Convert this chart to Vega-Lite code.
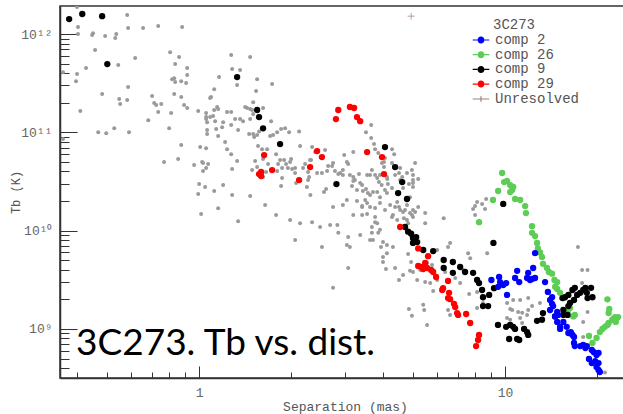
{
"$schema":"https://vega.github.io/schema/vega-lite/v6.json",
"width":570,"height":372,"autosize":"none",
"padding":{"left":60,"top":6,"right":0,"bottom":36},
"background":"white",
"config":{"view":{"stroke":"#333","strokeWidth":1.5},"font":"Liberation Mono","legend":{"titleFontWeight":"normal"}},
"datasets":{
"gray":[
{"sep":0.399,"tb":1.88e12},{"sep":0.402,"tb":1.18e12},{"sep":0.402,"tb":1.0e12},{"sep":0.447,"tb":9.77e11},{"sep":0.45,"tb":1.02e12},{"sep":0.493,"tb":9.54e11},{"sep":0.536,"tb":1.0e12},{"sep":0.532,"tb":9.11e11},{"sep":0.582,"tb":1.56e12},{"sep":0.586,"tb":1.15e12},{"sep":0.656,"tb":1.15e12},{"sep":0.735,"tb":1.21e12},{"sep":0.88,"tb":1.18e12},{"sep":0.457,"tb":6.87e11},{"sep":0.618,"tb":5.7e11},{"sep":0.427,"tb":4.51e11},{"sep":0.399,"tb":3.92e11},{"sep":0.544,"tb":4.84e11},{"sep":0.396,"tb":3.32e11},{"sep":0.359,"tb":4.1e11},{"sep":0.482,"tb":2.46e11},{"sep":0.586,"tb":2.89e11},{"sep":0.548,"tb":2.18e11},{"sep":0.552,"tb":1.94e11},{"sep":0.582,"tb":2.13e11},{"sep":0.409,"tb":1.65e11},{"sep":0.468,"tb":1.0e11},{"sep":0.497,"tb":9.77e10},{"sep":0.528,"tb":1.1e11},{"sep":0.59,"tb":1.0e11},{"sep":0.359,"tb":8.55e10},{"sep":0.804,"tb":6.55e11},{"sep":0.86,"tb":5.83e11},{"sep":0.835,"tb":4.95e11},{"sep":0.914,"tb":4.51e11},{"sep":0.914,"tb":3.83e11},{"sep":0.907,"tb":3.17e11},{"sep":0.816,"tb":3.48e11},{"sep":0.829,"tb":3.56e11},{"sep":0.835,"tb":3.25e11},{"sep":0.874,"tb":3.32e11},{"sep":0.702,"tb":2.34e11},{"sep":0.713,"tb":1.99e11},{"sep":0.724,"tb":1.9e11},{"sep":0.752,"tb":1.94e11},{"sep":0.735,"tb":1.61e11},{"sep":0.81,"tb":1.57e11},{"sep":0.829,"tb":2.46e11},{"sep":0.874,"tb":2.29e11},{"sep":0.893,"tb":1.9e11},{"sep":0.914,"tb":1.77e11},{"sep":0.682,"tb":1.33e11},{"sep":0.798,"tb":1.1e11},{"sep":0.874,"tb":7.43e10},{"sep":0.768,"tb":4.99e10},{"sep":0.854,"tb":5.35e10},{"sep":0.963,"tb":4.65e10},{"sep":1.03,"tb":4.87e10},{"sep":1.07,"tb":4.76e10},{"sep":1.054,"tb":4.33e10},{"sep":1.03,"tb":4.04e10},{"sep":0.993,"tb":1.65e11},{"sep":1.054,"tb":1.57e11},{"sep":1.054,"tb":1.43e11},{"sep":1.062,"tb":1.27e11},{"sep":1.086,"tb":1.43e11},{"sep":1.111,"tb":1.47e11},{"sep":1.12,"tb":2.75e11},{"sep":1.094,"tb":2.29e11},{"sep":1.086,"tb":2.24e11},{"sep":1.162,"tb":3.65e11},{"sep":1.128,"tb":1.3e11},{"sep":1.137,"tb":1.08e11},{"sep":1.154,"tb":1.73e11},{"sep":1.198,"tb":1.27e11},{"sep":1.189,"tb":1.13e11},{"sep":1.154,"tb":9.17e10},{"sep":1.062,"tb":9.6e10},{"sep":1.062,"tb":1.06e11},{"sep":1.054,"tb":6.9e10},{"sep":1.216,"tb":7.97e10},{"sep":1.234,"tb":6.75e10},{"sep":1.273,"tb":6.0e10},{"sep":1.331,"tb":5.1e10},{"sep":1.282,"tb":4.23e10},{"sep":1.49,"tb":4.13e10},{"sep":1.0,"tb":2.98e10},{"sep":1.046,"tb":2.78e10},{"sep":1.12,"tb":2.53e10},{"sep":0.993,"tb":2.36e10},{"sep":1.198,"tb":2.91e10},{"sep":1.154,"tb":1.69e10},{"sep":1.015,"tb":1.48e10},{"sep":1.341,"tb":1.25e10},{"sep":1.282,"tb":2.3e10},{"sep":1.468,"tb":2.25e10},{"sep":1.234,"tb":1.61e11},{"sep":1.273,"tb":1.61e11},{"sep":1.311,"tb":1.37e11},{"sep":1.361,"tb":1.37e11},{"sep":1.392,"tb":1.3e11},{"sep":1.414,"tb":1.81e11},{"sep":1.435,"tb":1.77e11},{"sep":1.468,"tb":1.73e11},{"sep":1.49,"tb":1.69e11},{"sep":1.273,"tb":1.19e11},{"sep":1.341,"tb":1.06e11},{"sep":1.273,"tb":6.11e11},{"sep":1.282,"tb":4.4e11},{"sep":1.361,"tb":4.3e11},{"sep":1.331,"tb":3.03e11},{"sep":1.468,"tb":5.83e11},{"sep":1.547,"tb":3.48e11},{"sep":1.502,"tb":2.03e11},{"sep":1.535,"tb":2.63e11},{"sep":1.468,"tb":1.37e11},{"sep":1.502,"tb":1.54e11},{"sep":1.457,"tb":9.6e10},{"sep":1.502,"tb":9.6e10},{"sep":1.732,"tb":3.1e11},{"sep":1.618,"tb":1.77e11},{"sep":1.719,"tb":1.3e11},{"sep":1.799,"tb":1.0e11},{"sep":1.853,"tb":1.08e11},{"sep":1.91,"tb":1.1e11},{"sep":1.968,"tb":1.0e11},{"sep":2.122,"tb":1.02e11},{"sep":1.145,"tb":1.81e11},{"sep":1.12,"tb":1.69e11},{"sep":1.054,"tb":1.37e11},{"sep":1.547,"tb":9.39e10},{"sep":1.57,"tb":1.02e11},{"sep":1.513,"tb":8.96e10},{"sep":1.008,"tb":7.08e10},{"sep":1.023,"tb":5.0e10},{"sep":1.558,"tb":7.25e10},{"sep":1.606,"tb":6.75e10},{"sep":1.706,"tb":9.17e10},{"sep":1.745,"tb":9.39e10},{"sep":1.668,"tb":6.75e10},{"sep":1.618,"tb":5.35e10},{"sep":1.524,"tb":5.1e10},{"sep":1.547,"tb":4.43e10},{"sep":1.785,"tb":6.0e10},{"sep":1.812,"tb":4.76e10},{"sep":1.924,"tb":4.76e10},{"sep":1.896,"tb":5.23e10},{"sep":1.998,"tb":5.35e10},{"sep":1.983,"tb":5.0e10},{"sep":1.867,"tb":4.33e10},{"sep":1.799,"tb":4.04e10},{"sep":1.68,"tb":4.76e10},{"sep":1.655,"tb":3.95e10},{"sep":1.618,"tb":3.52e10},{"sep":1.853,"tb":2.85e10},{"sep":2.075,"tb":3.05e10},{"sep":2.186,"tb":4.33e10},{"sep":2.22,"tb":4.76e10},{"sep":2.271,"tb":3.95e10},{"sep":2.322,"tb":5.23e10},{"sep":2.504,"tb":5.6e10},{"sep":2.393,"tb":6.3e10},{"sep":2.58,"tb":6.6e10},{"sep":2.34,"tb":7.08e10},{"sep":2.138,"tb":7.25e10},{"sep":2.059,"tb":4.33e10},{"sep":2.013,"tb":4.23e10},{"sep":2.059,"tb":3.85e10},{"sep":2.288,"tb":3.52e10},{"sep":2.43,"tb":3.85e10},{"sep":2.52,"tb":3.85e10},{"sep":2.62,"tb":4.04e10},{"sep":2.64,"tb":4.54e10},{"sep":2.72,"tb":4.54e10},{"sep":2.74,"tb":4.87e10},{"sep":2.78,"tb":4.04e10},{"sep":2.85,"tb":3.76e10},{"sep":2.89,"tb":3.85e10},{"sep":2.95,"tb":4.13e10},{"sep":3.04,"tb":5.0e10},{"sep":3.07,"tb":4.76e10},{"sep":2.98,"tb":5.87e10},{"sep":3.19,"tb":6.3e10},{"sep":2.6,"tb":2.65e10},{"sep":2.56,"tb":2.47e10},{"sep":2.31,"tb":2.3e10},{"sep":2.95,"tb":3.68e10},{"sep":3.11,"tb":3.68e10},{"sep":3.19,"tb":3.2e10},{"sep":3.19,"tb":3.52e10},{"sep":3.33,"tb":3.76e10},{"sep":3.43,"tb":2.53e10},{"sep":3.51,"tb":2.65e10},{"sep":3.28,"tb":2.59e10},{"sep":3.41,"tb":2.91e10},{"sep":3.62,"tb":3.68e10},{"sep":3.67,"tb":4.13e10},{"sep":3.76,"tb":3.68e10},{"sep":3.82,"tb":3.43e10},{"sep":3.87,"tb":3.12e10},{"sep":3.95,"tb":2.91e10},{"sep":4.12,"tb":3.35e10},{"sep":4.14,"tb":2.98e10},{"sep":3.7,"tb":2.47e10},{"sep":3.82,"tb":2.47e10},{"sep":4.05,"tb":2.59e10},{"sep":3.65,"tb":1.19e11},{"sep":3.51,"tb":1.0e11},{"sep":3.65,"tb":8.75e10},{"sep":3.76,"tb":6.75e10},{"sep":3.73,"tb":7.6e10},{"sep":3.85,"tb":6.15e10},{"sep":4.27,"tb":6.75e10},{"sep":4.34,"tb":6.0e10},{"sep":4.27,"tb":4.87e10},{"sep":3.96,"tb":4.87e10},{"sep":4.02,"tb":5.0e10},{"sep":4.02,"tb":4.43e10},{"sep":4.05,"tb":5.47e10},{"sep":4.37,"tb":3.68e10},{"sep":4.5,"tb":3.85e10},{"sep":4.78,"tb":3.85e10},{"sep":5.0,"tb":3.68e10},{"sep":4.85,"tb":2.98e10},{"sep":5.0,"tb":2.78e10},{"sep":5.2,"tb":3.35e10},{"sep":4.27,"tb":2.72e10},{"sep":1.839,"tb":5.23e10},{"sep":1.95,"tb":4.33e10},{"sep":2.305,"tb":5.23e10},{"sep":1.867,"tb":3.43e10},{"sep":2.25,"tb":2.78e10},{"sep":2.27,"tb":3.27e10},{"sep":2.74,"tb":1.74e10},{"sep":2.95,"tb":1.82e10},{"sep":3.04,"tb":2.05e10},{"sep":3.16,"tb":2.85e10},{"sep":3.23,"tb":3.27e10},{"sep":3.36,"tb":3.05e10},{"sep":3.54,"tb":3.68e10},{"sep":3.9,"tb":3.68e10},{"sep":4.11,"tb":3.52e10},{"sep":4.54,"tb":3.27e10},{"sep":4.96,"tb":4.13e10},{"sep":5.08,"tb":4.87e10},{"sep":3.56,"tb":2.41e10},{"sep":3.49,"tb":2.05e10},{"sep":3.62,"tb":2.3e10},{"sep":3.9,"tb":2.19e10},{"sep":4.11,"tb":2.41e10},{"sep":3.41,"tb":1.74e10},{"sep":3.54,"tb":1.91e10},{"sep":3.76,"tb":1.7e10},{"sep":3.9,"tb":1.91e10},{"sep":4.05,"tb":1.62e10},{"sep":4.21,"tb":1.82e10},{"sep":4.37,"tb":1.74e10},{"sep":4.54,"tb":1.62e10},{"sep":3.19,"tb":1.44e10},{"sep":3.76,"tb":1.38e10},{"sep":3.82,"tb":1.19e10},{"sep":3.9,"tb":1.02e10},{"sep":3.85,"tb":9.5e9},{"sep":3.67,"tb":9.5e9},{"sep":3.7,"tb":8.04e9},{"sep":3.99,"tb":7.65e9},{"sep":4.11,"tb":7.15e9},{"sep":4.3,"tb":6.8e9},{"sep":4.27,"tb":1.38e10},{"sep":4.44,"tb":1.28e10},{"sep":4.78,"tb":1.28e10},{"sep":1.983,"tb":1.28e10},{"sep":2.138,"tb":1.19e10},{"sep":2.34,"tb":1.22e10},{"sep":2.68,"tb":1.14e10},{"sep":2.83,"tb":1.14e10},{"sep":2.485,"tb":1.09e10},{"sep":2.85,"tb":9.5e9},{"sep":3.04,"tb":7.15e9},{"sep":3.11,"tb":6.8e9},{"sep":3.36,"tb":9.03e9},{"sep":3.62,"tb":8.04e9},{"sep":2.52,"tb":6.8e9},{"sep":2.06,"tb":8.04e9},{"sep":1.643,"tb":1.82e10},{"sep":1.785,"tb":1.44e10},{"sep":3.07,"tb":8.6e9},{"sep":3.28,"tb":2.0e10},{"sep":3.41,"tb":1.78e10},{"sep":3.41,"tb":1.44e10},{"sep":3.54,"tb":1.48e10},{"sep":3.62,"tb":1.74e10},{"sep":3.67,"tb":1.09e10},{"sep":3.76,"tb":1.22e10},{"sep":3.93,"tb":6.8e9},{"sep":3.99,"tb":5.4e9},{"sep":3.99,"tb":4.8e9},{"sep":4.11,"tb":5.9e9},{"sep":3.07,"tb":4.17e9},{"sep":4.08,"tb":4.07e9},{"sep":4.37,"tb":4.17e9},{"sep":4.5,"tb":3.15e9},{"sep":4.64,"tb":3.54e9},{"sep":2.74,"tb":2.62e9},{"sep":4.85,"tb":1.6e9},{"sep":4.96,"tb":1.36e9},{"sep":4.3,"tb":1.44e10},{"sep":4.5,"tb":1.74e10},{"sep":4.64,"tb":1.55e10},{"sep":4.44,"tb":1.96e10},{"sep":5.0,"tb":1.62e10},{"sep":4.82,"tb":1.19e10},{"sep":4.93,"tb":9.5e9},{"sep":4.82,"tb":5.8e9},{"sep":4.93,"tb":4.8e9},{"sep":4.89,"tb":3.9e9},{"sep":4.54,"tb":4.33e10},{"sep":5.0,"tb":3.27e10},{"sep":4.61,"tb":3.52e10},{"sep":5.0,"tb":3.05e10},{"sep":4.64,"tb":2.72e10},{"sep":4.89,"tb":2.19e10},{"sep":4.78,"tb":1.82e10},{"sep":5.2,"tb":1.74e10},{"sep":5.48,"tb":1.19e10},{"sep":4.96,"tb":1.44e10},{"sep":6.3,"tb":1.34e10},{"sep":6.51,"tb":6.8e9},{"sep":6.61,"tb":7.5e9},{"sep":7.98,"tb":1.78e10},{"sep":7.86,"tb":1.66e10},{"sep":8.1,"tb":1.96e10},{"sep":8.67,"tb":2.1e10},{"sep":8.41,"tb":1.87e10},{"sep":8.6,"tb":1.66e10},{"sep":7.98,"tb":1.44e10},{"sep":8.74,"tb":5.9e9},{"sep":7.57,"tb":5.9e9},{"sep":17.3,"tb":6.8e9},{"sep":4.71,"tb":1.62e10},{"sep":4.89,"tb":1.51e10},{"sep":4.67,"tb":1.34e10},{"sep":5.08,"tb":1.55e10},{"sep":5.0,"tb":1.38e10},{"sep":5.48,"tb":1.51e10},{"sep":6.0,"tb":6.36e9},{"sep":5.56,"tb":4.7e9},{"sep":5.77,"tb":4.48e9},{"sep":5.28,"tb":3.98e9},{"sep":5.16,"tb":3.15e9},{"sep":5.0,"tb":3.8e9},{"sep":5.48,"tb":3.0e9},{"sep":5.69,"tb":2.93e9},{"sep":5.82,"tb":2.43e9},{"sep":6.0,"tb":3.15e9},{"sep":6.37,"tb":3.8e9},{"sep":7.29,"tb":3.98e9},{"sep":7.13,"tb":2.93e9},{"sep":7.69,"tb":5.25e9},{"sep":6.87,"tb":3.3e9},{"sep":7.63,"tb":2.27e9},{"sep":8.1,"tb":2.38e9},{"sep":8.47,"tb":2.1e9},{"sep":5.4,"tb":1.76e9},{"sep":5.44,"tb":1.56e9},{"sep":5.56,"tb":1.1e9},{"sep":6.51,"tb":1.56e9},{"sep":6.61,"tb":1.39e9},{"sep":8.1,"tb":1.63e9},{"sep":8.47,"tb":1.84e9},{"sep":10.15,"tb":1.29e9},{"sep":10.39,"tb":1.24e9},{"sep":10.55,"tb":1.56e9},{"sep":11.03,"tb":1.49e9},{"sep":11.37,"tb":1.46e9},{"sep":11.8,"tb":1.39e9},{"sep":11.9,"tb":1.56e9},{"sep":12.25,"tb":1.71e9},{"sep":10.15,"tb":1.84e9},{"sep":10.39,"tb":1.6e9},{"sep":10.63,"tb":1.97e9},{"sep":11.2,"tb":1.97e9},{"sep":11.9,"tb":2.06e9},{"sep":17.85,"tb":3.98e9},{"sep":18.6,"tb":3.98e9},{"sep":18.0,"tb":8.3e8},{"sep":21.2,"tb":3.6e8},{"sep":11.37,"tb":1.15e9},{"sep":11.2,"tb":1.29e9},{"sep":17.85,"tb":2.93e9},{"sep":18.6,"tb":1.49e9},{"sep":18.0,"tb":1.18e9},{"sep":13.0,"tb":1.84e9}
],
"comps":[
{"comp":"comp 26","sep":9.78,"tb":3.86e10},{"comp":"comp 26","sep":9.93,"tb":3.12e10},{"comp":"comp 26","sep":10.15,"tb":3.2e10},{"comp":"comp 26","sep":10.39,"tb":2.91e10},{"comp":"comp 26","sep":10.63,"tb":2.78e10},{"comp":"comp 26","sep":10.55,"tb":2.59e10},{"comp":"comp 26","sep":10.39,"tb":2.47e10},{"comp":"comp 26","sep":9.49,"tb":2.53e10},{"comp":"comp 26","sep":9.13,"tb":2.05e10},{"comp":"comp 26","sep":10.78,"tb":2.1e10},{"comp":"comp 26","sep":11.2,"tb":2.05e10},{"comp":"comp 26","sep":11.63,"tb":1.78e10},{"comp":"comp 26","sep":11.7,"tb":1.51e10},{"comp":"comp 26","sep":8.22,"tb":1.22e10},{"comp":"comp 26","sep":12.25,"tb":1.11e10},{"comp":"comp 26","sep":12.25,"tb":9.5e9},{"comp":"comp 26","sep":12.53,"tb":8.8e9},{"comp":"comp 26","sep":12.72,"tb":7.5e9},{"comp":"comp 26","sep":12.8,"tb":6.6e9},{"comp":"comp 26","sep":13.0,"tb":6.0e9},{"comp":"comp 26","sep":13.2,"tb":5.4e9},{"comp":"comp 26","sep":13.3,"tb":4.6e9},{"comp":"comp 26","sep":13.7,"tb":4.17e9},{"comp":"comp 26","sep":13.9,"tb":3.8e9},{"comp":"comp 26","sep":14.24,"tb":3.65e9},{"comp":"comp 26","sep":14.5,"tb":3.15e9},{"comp":"comp 26","sep":14.8,"tb":3.0e9},{"comp":"comp 26","sep":14.57,"tb":2.68e9},{"comp":"comp 26","sep":14.8,"tb":2.55e9},{"comp":"comp 26","sep":15.13,"tb":2.33e9},{"comp":"comp 26","sep":15.5,"tb":2.06e9},{"comp":"comp 26","sep":16.3,"tb":1.63e9},{"comp":"comp 26","sep":16.0,"tb":1.49e9},{"comp":"comp 26","sep":16.7,"tb":1.34e9},{"comp":"comp 26","sep":16.9,"tb":1.39e9},{"comp":"comp 26","sep":18.8,"tb":8.5e8},{"comp":"comp 26","sep":19.3,"tb":7.2e8},{"comp":"comp 26","sep":19.9,"tb":8.1e8},{"comp":"comp 26","sep":20.4,"tb":9.3e8},{"comp":"comp 26","sep":20.8,"tb":1.0e9},{"comp":"comp 26","sep":21.2,"tb":1.05e9},{"comp":"comp 26","sep":21.6,"tb":1.1e9},{"comp":"comp 26","sep":21.8,"tb":1.15e9},{"comp":"comp 26","sep":22.4,"tb":1.24e9},{"comp":"comp 26","sep":22.7,"tb":1.29e9},{"comp":"comp 26","sep":22.9,"tb":1.32e9},{"comp":"comp 26","sep":23.2,"tb":1.29e9},{"comp":"comp 26","sep":23.4,"tb":1.32e9},{"comp":"comp 26","sep":23.0,"tb":1.18e9},{"comp":"comp 26","sep":21.8,"tb":1.45e9},{"comp":"comp 26","sep":21.6,"tb":2.0e9},{"comp":"comp 26","sep":21.9,"tb":1.6e9},
{"comp":"comp 9","sep":0.376,"tb":1.42e12},{"comp":"comp 9","sep":0.415,"tb":1.6e12},{"comp":"comp 9","sep":0.482,"tb":1.52e12},{"comp":"comp 9","sep":0.501,"tb":4.95e11},{"comp":"comp 9","sep":1.331,"tb":3.65e11},{"comp":"comp 9","sep":1.547,"tb":1.69e11},{"comp":"comp 9","sep":1.57,"tb":1.43e11},{"comp":"comp 9","sep":1.618,"tb":1.1e11},{"comp":"comp 9","sep":1.839,"tb":7.6e10},{"comp":"comp 9","sep":2.81,"tb":2.98e10},{"comp":"comp 9","sep":4.05,"tb":7.08e10},{"comp":"comp 9","sep":4.37,"tb":4.43e10},{"comp":"comp 9","sep":4.61,"tb":3.12e10},{"comp":"comp 9","sep":4.47,"tb":2.41e10},{"comp":"comp 9","sep":4.78,"tb":2.1e10},{"comp":"comp 9","sep":4.71,"tb":1.09e10},{"comp":"comp 9","sep":4.82,"tb":9.77e9},{"comp":"comp 9","sep":4.93,"tb":9.3e9},{"comp":"comp 9","sep":5.0,"tb":8.4e9},{"comp":"comp 9","sep":5.12,"tb":8.6e9},{"comp":"comp 9","sep":5.0,"tb":7.5e9},{"comp":"comp 9","sep":5.16,"tb":7.65e9},{"comp":"comp 9","sep":5.4,"tb":6.36e9},{"comp":"comp 9","sep":5.82,"tb":6.2e9},{"comp":"comp 9","sep":6.3,"tb":5.03e9},{"comp":"comp 9","sep":6.75,"tb":4.8e9},{"comp":"comp 9","sep":7.13,"tb":4.27e9},{"comp":"comp 9","sep":7.4,"tb":3.8e9},{"comp":"comp 9","sep":6.3,"tb":4.17e9},{"comp":"comp 9","sep":6.75,"tb":3.72e9},{"comp":"comp 9","sep":7.86,"tb":3.72e9},{"comp":"comp 9","sep":8.1,"tb":3.15e9},{"comp":"comp 9","sep":8.22,"tb":2.93e9},{"comp":"comp 9","sep":8.41,"tb":2.49e9},{"comp":"comp 9","sep":8.87,"tb":2.22e9},{"comp":"comp 9","sep":8.47,"tb":2.1e9},{"comp":"comp 9","sep":8.8,"tb":1.71e9},{"comp":"comp 9","sep":8.47,"tb":1.71e9},{"comp":"comp 9","sep":9.16,"tb":7.5e9},{"comp":"comp 9","sep":9.2,"tb":2.6e9},{"comp":"comp 9","sep":9.86,"tb":1.87e10},{"comp":"comp 9","sep":9.48,"tb":1.1e9},{"comp":"comp 9","sep":10.08,"tb":1.05e9},{"comp":"comp 9","sep":10.39,"tb":1.1e9},{"comp":"comp 9","sep":10.63,"tb":1.05e9},{"comp":"comp 9","sep":10.78,"tb":1.0e9},{"comp":"comp 9","sep":10.31,"tb":7.9e8},{"comp":"comp 9","sep":10.95,"tb":7.9e8},{"comp":"comp 9","sep":11.12,"tb":7.72e8},{"comp":"comp 9","sep":11.54,"tb":1.0e9},{"comp":"comp 9","sep":11.8,"tb":9.3e8},{"comp":"comp 9","sep":11.9,"tb":8.7e8},{"comp":"comp 9","sep":12.72,"tb":1.21e9},{"comp":"comp 9","sep":13.2,"tb":1.24e9},{"comp":"comp 9","sep":13.3,"tb":1.45e9},{"comp":"comp 9","sep":14.57,"tb":1.34e9},{"comp":"comp 9","sep":15.5,"tb":1.39e9},{"comp":"comp 9","sep":15.4,"tb":2.06e9},{"comp":"comp 9","sep":15.7,"tb":2.1e9},{"comp":"comp 9","sep":16.1,"tb":2.22e9},{"comp":"comp 9","sep":16.6,"tb":2.49e9},{"comp":"comp 9","sep":16.9,"tb":2.62e9},{"comp":"comp 9","sep":17.2,"tb":2.22e9},{"comp":"comp 9","sep":17.6,"tb":2.33e9},{"comp":"comp 9","sep":18.0,"tb":2.49e9},{"comp":"comp 9","sep":18.3,"tb":2.62e9},{"comp":"comp 9","sep":18.5,"tb":2.33e9},{"comp":"comp 9","sep":18.6,"tb":2.06e9},{"comp":"comp 9","sep":19.1,"tb":2.62e9},{"comp":"comp 9","sep":19.3,"tb":2.1e9},{"comp":"comp 9","sep":16.1,"tb":1.71e9},{"comp":"comp 9","sep":16.8,"tb":1.97e9},{"comp":"comp 9","sep":16.3,"tb":1.84e9},{"comp":"comp 9","sep":15.5,"tb":1.56e9},{"comp":"comp 9","sep":16.0,"tb":1.39e9},
{"comp":"comp 29","sep":1.57,"tb":3.76e10},{"comp":"comp 29","sep":1.631,"tb":5.87e10},{"comp":"comp 29","sep":1.594,"tb":3.95e10},{"comp":"comp 29","sep":1.594,"tb":3.6e10},{"comp":"comp 29","sep":1.732,"tb":4.13e10},{"comp":"comp 29","sep":2.122,"tb":3.27e10},{"comp":"comp 29","sep":2.305,"tb":4.43e10},{"comp":"comp 29","sep":2.43,"tb":6.45e10},{"comp":"comp 29","sep":2.52,"tb":5.6e10},{"comp":"comp 29","sep":2.8,"tb":1.365e11},{"comp":"comp 29","sep":2.85,"tb":1.69e11},{"comp":"comp 29","sep":3.11,"tb":1.81e11},{"comp":"comp 29","sep":3.21,"tb":1.77e11},{"comp":"comp 29","sep":3.28,"tb":1.43e11},{"comp":"comp 29","sep":3.36,"tb":1.3e11},{"comp":"comp 29","sep":3.54,"tb":6.3e10},{"comp":"comp 29","sep":3.96,"tb":5.6e10},{"comp":"comp 29","sep":4.02,"tb":3.76e10},{"comp":"comp 29","sep":4.54,"tb":1.09e10},{"comp":"comp 29","sep":5.2,"tb":6.6e9},{"comp":"comp 29","sep":5.2,"tb":4.37e9},{"comp":"comp 29","sep":5.6,"tb":5.5e9},{"comp":"comp 29","sep":5.48,"tb":4.7e9},{"comp":"comp 29","sep":5.32,"tb":4.27e9},{"comp":"comp 29","sep":5.4,"tb":4.07e9},{"comp":"comp 29","sep":5.56,"tb":4.17e9},{"comp":"comp 29","sep":5.73,"tb":3.98e9},{"comp":"comp 29","sep":5.82,"tb":3.8e9},{"comp":"comp 29","sep":5.95,"tb":3.38e9},{"comp":"comp 29","sep":6.51,"tb":3.08e9},{"comp":"comp 29","sep":6.27,"tb":2.6e9},{"comp":"comp 29","sep":6.23,"tb":2.49e9},{"comp":"comp 29","sep":6.56,"tb":2.33e9},{"comp":"comp 29","sep":6.51,"tb":2.06e9},{"comp":"comp 29","sep":6.61,"tb":2.01e9},{"comp":"comp 29","sep":6.81,"tb":1.8e9},{"comp":"comp 29","sep":6.87,"tb":1.67e9},{"comp":"comp 29","sep":7.02,"tb":1.39e9},{"comp":"comp 29","sep":6.97,"tb":1.45e9},{"comp":"comp 29","sep":7.46,"tb":1.42e9},{"comp":"comp 29","sep":7.69,"tb":1.15e9},{"comp":"comp 29","sep":8.22,"tb":8.7e8},{"comp":"comp 29","sep":8.16,"tb":7.72e8},{"comp":"comp 29","sep":8.04,"tb":6.7e8},
{"comp":"comp 2","sep":9.02,"tb":3.15e9},{"comp":"comp 2","sep":9.56,"tb":3.38e9},{"comp":"comp 2","sep":9.63,"tb":3.0e9},{"comp":"comp 2","sep":9.86,"tb":2.8e9},{"comp":"comp 2","sep":10.08,"tb":2.93e9},{"comp":"comp 2","sep":10.15,"tb":2.22e9},{"comp":"comp 2","sep":9.49,"tb":2.68e9},{"comp":"comp 2","sep":10.95,"tb":3.9e9},{"comp":"comp 2","sep":10.78,"tb":3.3e9},{"comp":"comp 2","sep":11.12,"tb":3.0e9},{"comp":"comp 2","sep":11.8,"tb":3.3e9},{"comp":"comp 2","sep":11.9,"tb":3.72e9},{"comp":"comp 2","sep":12.07,"tb":3.15e9},{"comp":"comp 2","sep":12.35,"tb":4.17e9},{"comp":"comp 2","sep":12.53,"tb":3.3e9},{"comp":"comp 2","sep":12.25,"tb":3.22e9},{"comp":"comp 2","sep":12.53,"tb":5.9e9},{"comp":"comp 2","sep":13.51,"tb":3.0e9},{"comp":"comp 2","sep":13.8,"tb":2.38e9},{"comp":"comp 2","sep":14.03,"tb":1.97e9},{"comp":"comp 2","sep":14.24,"tb":2.1e9},{"comp":"comp 2","sep":14.24,"tb":1.8e9},{"comp":"comp 2","sep":14.35,"tb":1.71e9},{"comp":"comp 2","sep":14.03,"tb":1.56e9},{"comp":"comp 2","sep":14.8,"tb":1.49e9},{"comp":"comp 2","sep":14.57,"tb":1.34e9},{"comp":"comp 2","sep":14.9,"tb":1.39e9},{"comp":"comp 2","sep":14.8,"tb":1.18e9},{"comp":"comp 2","sep":15.5,"tb":1.18e9},{"comp":"comp 2","sep":15.13,"tb":1.05e9},{"comp":"comp 2","sep":15.13,"tb":1.0e9},{"comp":"comp 2","sep":15.9,"tb":1.05e9},{"comp":"comp 2","sep":16.1,"tb":9.1e8},{"comp":"comp 2","sep":16.4,"tb":9.3e8},{"comp":"comp 2","sep":16.8,"tb":8.3e8},{"comp":"comp 2","sep":16.6,"tb":8.7e8},{"comp":"comp 2","sep":16.8,"tb":7.2e8},{"comp":"comp 2","sep":16.9,"tb":6.7e8},{"comp":"comp 2","sep":17.6,"tb":6.7e8},{"comp":"comp 2","sep":18.0,"tb":6.87e8},{"comp":"comp 2","sep":18.3,"tb":6.4e8},{"comp":"comp 2","sep":18.5,"tb":6.7e8},{"comp":"comp 2","sep":19.2,"tb":6.11e8},{"comp":"comp 2","sep":19.5,"tb":5.8e8},{"comp":"comp 2","sep":19.9,"tb":5.44e8},{"comp":"comp 2","sep":20.2,"tb":5.7e8},{"comp":"comp 2","sep":18.8,"tb":4.95e8},{"comp":"comp 2","sep":19.2,"tb":4.5e8},{"comp":"comp 2","sep":19.7,"tb":4.7e8},{"comp":"comp 2","sep":20.2,"tb":4.5e8},{"comp":"comp 2","sep":19.9,"tb":4.1e8},{"comp":"comp 2","sep":20.2,"tb":3.83e8},{"comp":"comp 2","sep":20.4,"tb":3.65e8}
],
"unresolved":[{"comp":"Unresolved","sep":4.93,"tb":1.52e12}]
},
"layer":[
{"data":{"name":"gray"},
 "mark":{"type":"circle","color":"#9a9a9a","size":16,"opacity":1,"clip":true},
 "encoding":{
  "x":{"field":"sep","type":"quantitative","scale":{"type":"log","domain":[0.351,25.6],"nice":false},
   "axis":{"values":[0.4,0.5,0.6,0.7,0.8,0.9,1,2,3,4,5,6,7,8,9,10,20],
    "labelExpr":"datum.value == 1 ? '1' : datum.value == 10 ? '10' : ''",
    "tickSize":{"condition":{"test":"datum.value == 1 || datum.value == 10","value":-12},"value":-6},
    "labelPadding":20,"grid":false,"domainColor":"#333","domainWidth":1.5,"tickColor":"#333","tickWidth":1,
    "labelFont":"Liberation Mono","labelFontSize":13,"labelColor":"#666","labelFlush":false,"labelOverlap":false,
    "title":"Separation (mas)","titleFont":"Liberation Mono","titleFontSize":13,"titleFontWeight":"normal","titleColor":"#555","titlePadding":-5}},
  "y":{"field":"tb","type":"quantitative","scale":{"type":"log","domain":[3.17e8,1.93e12],"nice":false},
   "axis":{"values":[4e8,5e8,6e8,7e8,8e8,9e8,1e9,2e9,3e9,4e9,5e9,6e9,7e9,8e9,9e9,1e10,2e10,3e10,4e10,5e10,6e10,7e10,8e10,9e10,1e11,2e11,3e11,4e11,5e11,6e11,7e11,8e11,9e11,1e12],
    "labelExpr":"datum.value == 1e9 ? '10⁹' : datum.value == 1e10 ? '10¹⁰' : datum.value == 1e11 ? '10¹¹' : datum.value == 1e12 ? '10¹²' : ''",
    "tickSize":{"condition":{"test":"datum.value == 1e9 || datum.value == 1e10 || datum.value == 1e11 || datum.value == 1e12","value":-17},"value":-9},
    "labelPadding":25,"grid":false,"domainColor":"#333","domainWidth":1.5,"tickColor":"#333","tickWidth":1,
    "labelFont":"Liberation Mono","labelFontSize":13,"labelColor":"#666","labelFlush":false,"labelOverlap":false,
    "title":"Tb (K)","titleFont":"Liberation Mono","titleFontSize":12,"titleFontWeight":"normal","titleColor":"#555","titlePadding":-2}}
 }},
{"data":{"name":"comps"},
 "mark":{"type":"point","filled":true,"opacity":1,"shape":"circle","size":40,"clip":true},
 "encoding":{
  "x":{"field":"sep","type":"quantitative"},
  "y":{"field":"tb","type":"quantitative"},
  "color":{"field":"comp","type":"nominal",
   "scale":{"domain":["comp 2","comp 26","comp 9","comp 29"],"range":["#0000ff","#5ccd55","#000000","#ff0000"]},
   "legend":{"orient":"none","legendX":414,"legendY":12,"padding":0,
    "title":"3C273","titleAnchor":"middle","titleFont":"Liberation Mono","titleFontSize":14,"titleFontWeight":"normal","titleColor":"#555","titlePadding":1,
    "labelFont":"Liberation Mono","labelFontSize":14,"labelColor":"#555","labelOffset":7,
    "symbolType":"M-1.66,-0.12H-0.66V0.12H-1.66Z M0.66,-0.12H1.66V0.12H0.66Z M-0.7,0A0.7,0.7 0 1,0 0.7,0A0.7,0.7 0 1,0 -0.7,0Z",
    "symbolSize":100,"symbolStrokeWidth":0,"rowPadding":0.7}}
 }},
{"data":{"name":"unresolved"},
 "mark":{"type":"point","filled":true,"color":"#9a8479","shape":"M-1,-0.1H1V0.1H-1Z M-0.1,-1H0.1V1H-0.1Z","size":50,"clip":true},
 "encoding":{
  "x":{"field":"sep","type":"quantitative"},
  "y":{"field":"tb","type":"quantitative"},
  "opacity":{"field":"comp","type":"nominal","scale":{"domain":["Unresolved"],"range":[1]},
   "legend":{"orient":"none","legendX":414,"legendY":86,"padding":0,"title":null,
    "labelFont":"Liberation Mono","labelFontSize":14,"labelColor":"#555","labelOffset":7,
    "symbolType":"M-1.66,-0.12H1.66V0.12H-1.66Z M-0.12,-0.55H0.12V0.55H-0.12Z",
    "symbolSize":100,"symbolStrokeWidth":0,"symbolFillColor":"#9a8479","symbolOpacity":1}}
 }},
{"data":{"values":[{}]},
 "mark":{"type":"text","text":"3C273. Tb vs. dist.","font":"Lato","fontSize":37,"align":"left","baseline":"alphabetic","color":"black"},
 "encoding":{"x":{"datum":0.396,"type":"quantitative"},"y":{"datum":5.44e8,"type":"quantitative"}}}
]
}
